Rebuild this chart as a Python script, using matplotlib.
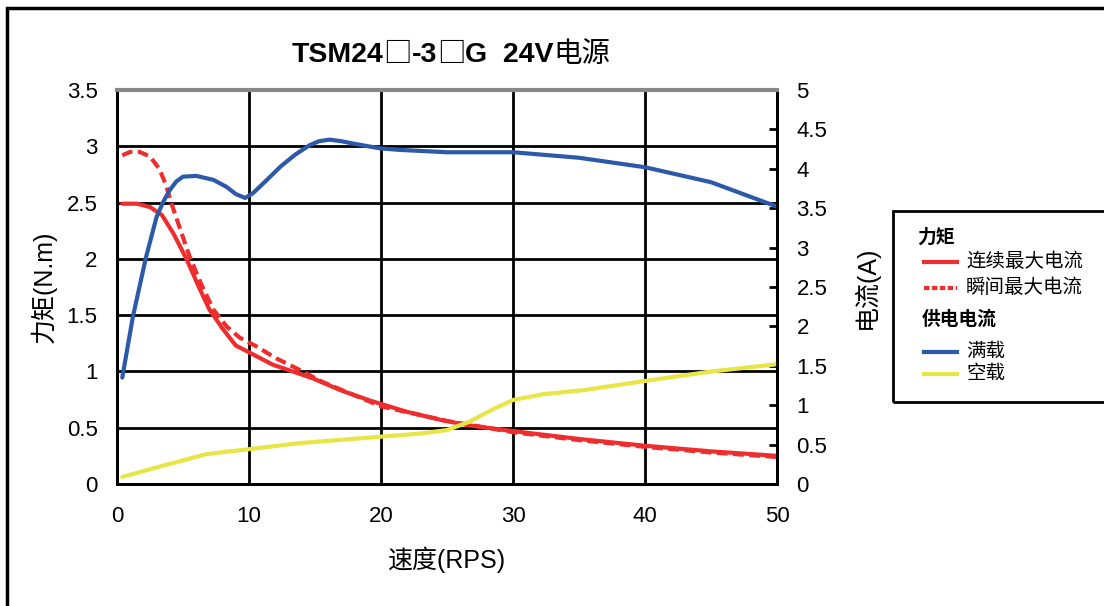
import matplotlib
matplotlib.use("Agg")
import matplotlib.pyplot as plt
from matplotlib.patches import Rectangle
from matplotlib.lines import Line2D

# ── Data ──────────────────────────────────────────────────────────────────────

speed_cont = [0.4, 1.5, 2.5, 3.4, 4.3, 5.3, 6.2, 7.0, 8.0, 9.0, 10.0, 11.8,
              14.8, 17.0, 19.2, 22.0, 24.5, 26.7, 30.0, 35.0, 40.0, 45.0, 50.0]
torque_cont = [2.49, 2.49, 2.46, 2.39, 2.22, 1.99, 1.75, 1.55, 1.38, 1.23, 1.17, 1.06,
               0.94, 0.83, 0.74, 0.64, 0.57, 0.52, 0.47, 0.40, 0.34, 0.29, 0.25]

speed_peak = [0.4, 1.0, 1.7, 2.5, 3.2, 3.7, 4.1, 4.8, 5.5, 6.4, 7.3, 8.3,
              9.3, 10.6, 12.0, 13.9, 15.5, 20.0, 25.0, 30.0, 35.0, 40.0, 45.0, 50.0]
torque_peak = [2.92, 2.95, 2.95, 2.91, 2.80, 2.66, 2.50, 2.26, 2.02, 1.77, 1.55, 1.40,
               1.30, 1.22, 1.12, 1.01, 0.91, 0.69, 0.56, 0.46, 0.39, 0.33, 0.28, 0.24]

speed_full = [0.4, 1.2, 2.2, 3.0, 3.5, 4.0, 4.5, 5.0, 6.0, 7.3, 8.3, 9.0, 9.7, 10.3, 11.3,
              12.4, 13.5, 14.6, 15.3, 16.1, 17.0, 17.9, 19.9, 21.4, 25.0, 30.0, 35.0,
              40.0, 45.0, 50.0]
current_full = [1.35, 2.12, 2.88, 3.39, 3.58, 3.73, 3.84, 3.90, 3.91, 3.86, 3.77, 3.68,
                3.63, 3.69, 3.85, 4.03, 4.18, 4.30, 4.35, 4.37, 4.35, 4.32, 4.26, 4.24,
                4.21, 4.21, 4.14, 4.02, 3.83, 3.52]

speed_noload = [0.4, 3.0, 5.0, 6.8, 9.9, 13.9, 19.2, 23.0, 25.0, 26.7, 28.5,
                30.0, 32.3, 35.3, 40.1, 44.9, 50.0]
current_noload = [0.09, 0.21, 0.30, 0.38, 0.44, 0.52, 0.59, 0.64, 0.685, 0.79, 0.95,
                  1.066, 1.14, 1.19, 1.31, 1.425, 1.52]

x_ticks = [0, 10, 20, 30, 40, 50]
torque_ticks = [0, 0.5, 1, 1.5, 2, 2.5, 3, 3.5]
current_ticks = [0, 0.5, 1, 1.5, 2, 2.5, 3, 3.5, 4, 4.5, 5]

# title pieces: (text, is_latin_bold)
title_parts = [("TSM24", True), ("□", False), ("-3", True), ("□", False),
               ("G  24V", True), ("电源", False)]
legend_torque = "力矩"
legend_supply = "供电电流"
label_cont = "连续最大电流"
label_peak = "瞬间最大电流"
label_full = "满载"
label_noload = "空载"

# ── Style ─────────────────────────────────────────────────────────────────────

plt.rcParams['font.family'] = ['Liberation Sans', 'Noto Sans CJK SC', 'DejaVu Sans']
CJK = ['Noto Sans CJK SC', 'DejaVu Sans']

RED = "#EE2E2E"
BLUE = "#2C5AA8"
YELLOW = "#E8E547"
W, H = 1104, 606


def fx(px):
    return px / W


def fy(py):
    return 1 - py / H


fig = plt.figure(figsize=(W / 100, H / 100), dpi=100)
ax = fig.add_axes([fx(117), fy(484), fx(777) - fx(117), fy(90) - fy(484)])
ax2 = ax.twinx()

# ── Curves ────────────────────────────────────────────────────────────────────

ax.plot(speed_cont, torque_cont, color=RED, lw=3, solid_capstyle='round', zorder=3)
ax.plot(speed_peak, torque_peak, color=RED, lw=3, ls=(0, (2.6, 1.3)), zorder=3)
ax2.plot(speed_full, current_full, color=BLUE, lw=3, solid_capstyle='round',
         solid_joinstyle='round')
ax2.plot(speed_noload, current_noload, color=YELLOW, lw=3, solid_capstyle='round',
         solid_joinstyle='round')

# ── Axes ──────────────────────────────────────────────────────────────────────

ax.set_xlim(0, 50)
ax.set_ylim(0, 3.5)
ax2.set_ylim(0, 5)
ax.set_xticks(x_ticks)
ax.set_xticklabels([f"{v:g}" for v in x_ticks])
ax.set_yticks(torque_ticks)
ax.set_yticklabels([f"{v:g}" for v in torque_ticks])
ax2.set_yticks(current_ticks)
ax2.set_yticklabels([f"{v:g}" for v in current_ticks])

ax.tick_params(axis='both', length=0, labelsize=16)
ax.tick_params(axis='y', pad=14)
ax.tick_params(axis='x', pad=16)
ax2.tick_params(axis='y', direction='in', length=6, width=2, labelsize=16, pad=14)

ax.grid(True, color='black', lw=2)
ax.set_axisbelow(True)
for s in ['left', 'bottom', 'right']:
    ax.spines[s].set_linewidth(2)
    ax2.spines[s].set_linewidth(2)
ax.spines['top'].set_color('#888888')
ax2.spines['top'].set_color('#888888')
ax2.spines['top'].set_linewidth(3)

ax.set_xlabel("速度(RPS)", fontsize=18, labelpad=14)
ax.set_ylabel("力矩(N.m)", fontsize=18, labelpad=7)
ax2.set_ylabel("电流(A)", fontsize=18, labelpad=18)

# ── Title: bold latin, regular CJK squares / characters ──────────────────────

renderer = fig.canvas.get_renderer()
pieces = []
x = 0.0
for txt, latin in title_parts:
    if latin:
        t = fig.text(x, fy(62), txt, fontsize=20.5, weight='bold', va='baseline')
    else:
        t = fig.text(x, fy(62), txt, fontsize=20.5, family=CJK, va='baseline')
    w = t.get_window_extent(renderer).width / W
    pieces.append((t, x))
    x += w
shift = fx(451) - x / 2
for t, x0 in pieces:
    t.set_x(x0 + shift)

# ── Frames and legend ─────────────────────────────────────────────────────────

fig.patches.append(Rectangle((fx(893), fy(402)), 0.3, fy(211) - fy(402),
                             transform=fig.transFigure, fill=False, lw=2, ec='black'))
fig.patches.append(Rectangle((fx(7), -0.1), 1.2, fy(8) + 0.1,
                             transform=fig.transFigure, fill=False, lw=2.5, ec='black'))

fig.text(fx(917), fy(238), legend_torque, fontsize=13.5, weight='bold', va='center')
fig.text(fx(922), fy(320), legend_supply, fontsize=13.5, weight='bold', va='center')
rows = [(262, label_cont, RED, '-'), (288, label_peak, RED, (0, (1.3, 0.6))),
        (352, label_full, BLUE, '-'), (374, label_noload, YELLOW, '-')]
for py, lab, col, ls in rows:
    fig.add_artist(Line2D([fx(924), fx(957)], [fy(py), fy(py)], color=col, lw=3, ls=ls,
                          transform=fig.transFigure))
    fig.text(fx(966), fy(py), lab, fontsize=14, va='center')

fig.savefig("out.png", dpi=100)
